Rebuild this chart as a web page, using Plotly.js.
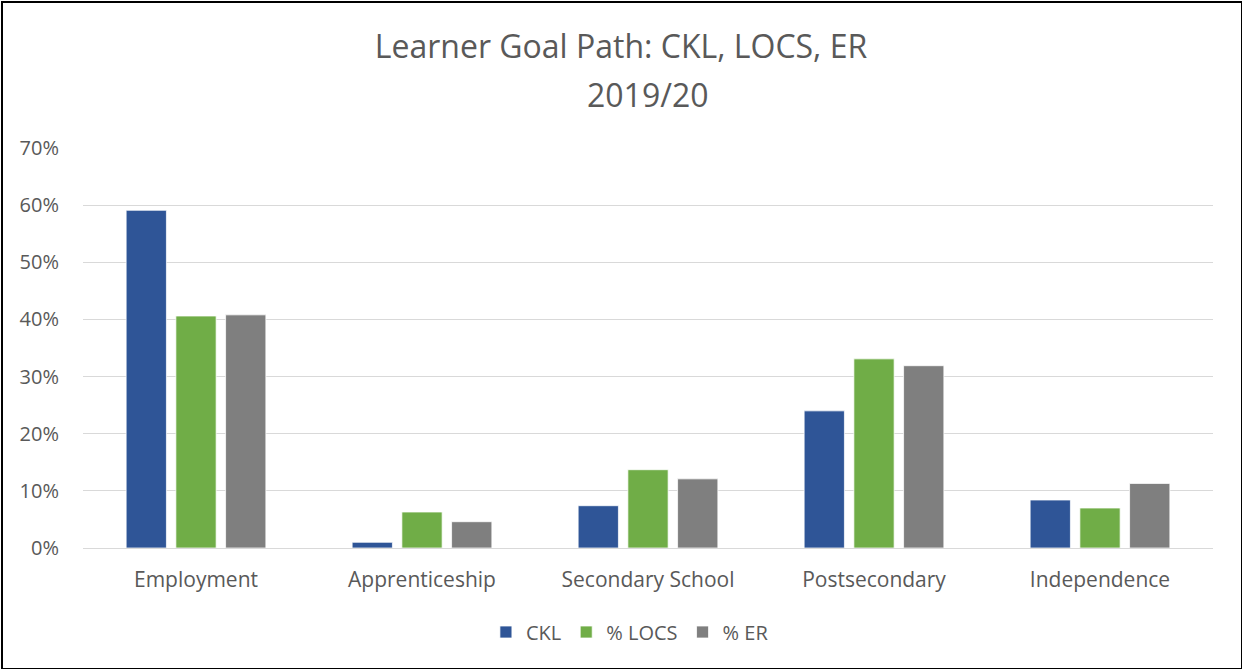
<!DOCTYPE html>
<html>
<head>
<meta charset="utf-8">
<script src="https://cdn.plot.ly/plotly-3.0.1.min.js"></script>
<style>
  html, body { margin: 0; padding: 0; background: #fff; }
  #wrap { position: relative; width: 1242px; height: 669px; }
  #chart { width: 1242px; height: 669px; }
  #frame { position: absolute; left: 1px; top: 1px; width: 1238px; height: 665px; border: 2px solid #000; pointer-events: none; box-sizing: content-box; }
</style>
</head>
<body>
<div id="wrap">
  <div id="chart"></div>
  <div id="frame"></div>
</div>
<script>
const categories = ["Employment", "Apprenticeship", "Secondary School", "Postsecondary", "Independence"];
const seriesNames = ["CKL", "% LOCS", "% ER"];
const ckl = [0.591, 0.010, 0.074, 0.240, 0.084];
const locs = [0.406, 0.063, 0.137, 0.331, 0.070];
const er = [0.408, 0.046, 0.121, 0.319, 0.113];
const colors = ["#2F5597", "#70AD47", "#7F7F7F"];
const yTicks = [0, 0.1, 0.2, 0.3, 0.4, 0.5, 0.6, 0.7];
const yTickLabels = ["0%", "10%", "20%", "30%", "40%", "50%", "60%", "70%"];
const titleLine1 = "Learner Goal Path: CKL, LOCS, ER";
const titleLine2 = "2019/20";

const FONT = "'Open Sans', 'Noto Sans', sans-serif";
const values = [ckl, locs, er];
const traces = values.map((v, i) => ({
  type: "bar",
  name: seriesNames[i],
  x: categories,
  y: v,
  marker: { color: colors[i], line: { color: "#ffffff", width: 0.75 } },
  hoverinfo: "x+y+name"
}));

const layout = {
  width: 1242,
  height: 669,
  paper_bgcolor: "#ffffff",
  plot_bgcolor: "#ffffff",
  margin: { l: 83, r: 29, t: 148, b: 121 },
  font: { family: FONT, color: "#595959", size: 20 },
  title: {
    text: titleLine1,
    x: 0.5, xanchor: "center",
    y: 1 - 47 / 669, yanchor: "middle",
    font: { family: FONT, size: 32, color: "#595959" }
  },
  annotations: [{
    text: titleLine2,
    xref: "paper", yref: "paper",
    x: 0.5, xanchor: "center",
    y: (548 - 95) / 400, yanchor: "middle",
    showarrow: false,
    font: { family: FONT, size: 32, color: "#595959" }
  }],
  barmode: "group",
  bargap: 0.34,
  bargroupgap: 0.19,
  xaxis: {
    type: "category",
    showgrid: false,
    showline: true,
    linecolor: "#d9d9d9",
    linewidth: 1,
    ticks: "",
    tickfont: { family: FONT, size: 21, color: "#595959" },
    ticklabelstandoff: 13
  },
  yaxis: {
    range: [0, 0.7],
    tickvals: yTicks,
    ticktext: yTickLabels,
    showgrid: true,
    gridcolor: "#d9d9d9",
    gridwidth: 1,
    zeroline: false,
    showline: false,
    ticks: "",
    ticklabelstandoff: 23,
    tickfont: { family: FONT, size: 20, color: "#595959" }
  },
  showlegend: true,
  legend: {
    orientation: "h",
    x: 0.484, xanchor: "center",
    y: -0.21, yanchor: "middle",
    font: { family: FONT, size: 20, color: "#595959" },
    itemwidth: 30,
    traceorder: "normal"
  }
};

Plotly.newPlot("chart", traces, layout, { displayModeBar: false });
</script>
</body>
</html>
